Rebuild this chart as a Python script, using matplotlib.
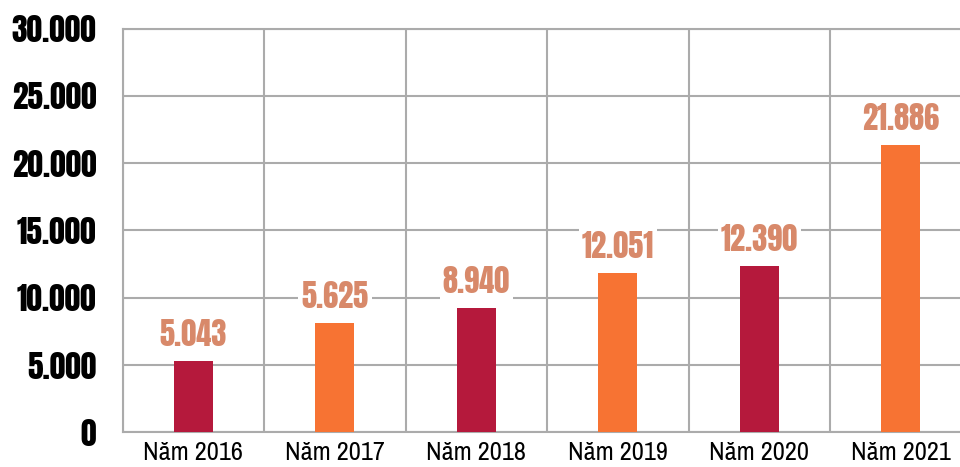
import matplotlib
matplotlib.use("Agg")
import matplotlib.pyplot as plt
from matplotlib import font_manager

# data
years = ["Năm 2016", "Năm 2017", "Năm 2018", "Năm 2019", "Năm 2020", "Năm 2021"]
bar_heights = [5300, 8120, 9230, 11830, 12350, 21350]
bar_labels = ["5.043", "5.625", "8.940", "12.051", "12.390", "21.886"]
y_ticks = [0, 5000, 10000, 15000, 20000, 25000, 30000]
y_tick_labels = ["0", "5.000", "10.000", "15.000", "20.000", "25.000", "30.000"]

RED = "#B5193C"
ORANGE = "#F77333"
LABEL_COLOR = "#D8896A"
GRID = "#ABABAB"
colors = [RED, ORANGE, RED, ORANGE, RED, ORANGE]

names = {f.name for f in font_manager.fontManager.ttflist}


def pick(cands):
    for c in cands:
        if c in names:
            return c
    return "DejaVu Sans"


heavy = pick(["Anton", "Oswald", "Fjalla One", "Bebas Neue", "IBM Plex Sans Condensed"])
narrow = pick(["Archivo Narrow", "Roboto Condensed", "PT Sans Narrow", "IBM Plex Sans Condensed"])

fig = plt.figure(figsize=(9.6, 4.67), dpi=100)
ax = fig.add_axes([0.1278, 0.0743, 0.8842, 0.8643])

x = list(range(len(years)))
bars = ax.bar(x, bar_heights, width=0.275, color=colors, zorder=3)

ax.set_xlim(-0.5, len(years) - 0.5)
ax.set_ylim(0, 30000)
ax.set_yticks(y_ticks)
ax.set_yticklabels(y_tick_labels, fontfamily=heavy, fontsize=22.5)
ax.set_xticks(x)
ax.set_xticklabels(years, fontfamily=narrow, fontsize=19)
ax.tick_params(axis="y", length=0, pad=19)
ax.tick_params(axis="x", length=0, pad=6)

# grid lines / column dividers
ax.set_xticks([i - 0.5 for i in range(len(years) + 1)], minor=True)
ax.tick_params(axis="x", which="minor", length=0)
ax.grid(axis="y", color=GRID, linewidth=1.5, zorder=0)
ax.grid(axis="x", which="minor", color=GRID, linewidth=1.5, zorder=0)
for s in ax.spines.values():
    s.set_color(GRID)
    s.set_linewidth(1.5)

for b, lab in zip(bars, bar_labels):
    ax.annotate(lab, (b.get_x() + b.get_width() / 2, b.get_height()),
                xytext=(0, 8), textcoords="offset points",
                ha="center", va="bottom", fontsize=22,
                fontfamily=heavy, color=LABEL_COLOR, zorder=4,
                bbox=dict(boxstyle="square,pad=0.1", fc="white", ec="none"))

fig.savefig("out.png", dpi=100)
